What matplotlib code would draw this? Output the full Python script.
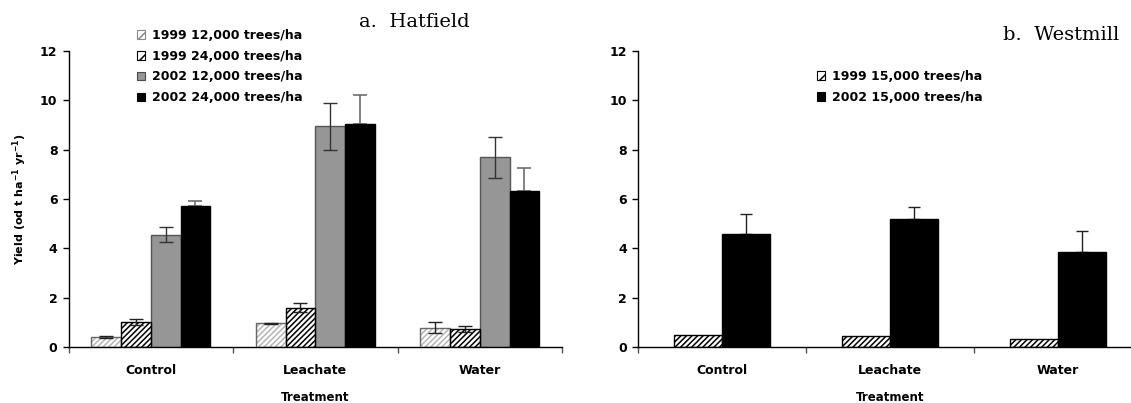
import numpy as np
import matplotlib
matplotlib.use("Agg")
import matplotlib.pyplot as plt
from matplotlib.patches import Patch

# ---------------- data ----------------
categories = ["Control", "Leachate", "Water"]

hat_labels = ["1999 12,000 trees/ha", "1999 24,000 trees/ha",
              "2002 12,000 trees/ha", "2002 24,000 trees/ha"]
hat_1999_12k = [0.40, 0.96, 0.78]
hat_1999_12k_err = [0.03, 0.03, 0.23]
hat_1999_24k = [1.01, 1.60, 0.73]
hat_1999_24k_err = [0.12, 0.19, 0.12]
hat_2002_12k = [4.55, 8.95, 7.70]
hat_2002_12k_err = [0.30, 0.95, 0.83]
hat_2002_24k = [5.72, 9.03, 6.34]
hat_2002_24k_err = [0.20, 1.20, 0.92]

west_labels = ["1999 15,000 trees/ha", "2002 15,000 trees/ha"]
west_1999 = [0.50, 0.43, 0.32]
west_2002 = [4.60, 5.18, 3.86]
west_2002_err = [0.79, 0.48, 0.83]

yticks = [0, 2, 4, 6, 8, 10, 12]

# ---------------- figure ----------------
W, H = 1131, 403
DPI = 100
fig = plt.figure(figsize=(W / DPI, H / DPI), dpi=DPI)
plt.rcParams["hatch.linewidth"] = 1.1

SANS = "DejaVu Sans"
SERIF = "DejaVu Serif"
HATCH = "//////"

def px_axes(x0, x1, ytop, ybot):
    return fig.add_axes([x0 / W, 1 - ybot / H, (x1 - x0) / W, (ybot - ytop) / H])

axL = px_axes(68.6, 562, 51, 347)
axR = px_axes(638, 1142, 51, 347)

def style_axis(ax):
    ax.set_xlim(0, 3)
    ax.set_ylim(0, 12)
    for s in ["top", "right"]:
        ax.spines[s].set_visible(False)
    for s in ["left", "bottom"]:
        ax.spines[s].set_linewidth(1.0)
        ax.spines[s].set_color("black")
    ax.set_yticks(yticks)
    ax.set_yticklabels([str(v) for v in yticks], fontsize=9, fontweight="bold",
                       family=SANS)
    ax.tick_params(axis="y", direction="out", length=4, width=1, pad=4)
    ax.set_xticks([0, 1, 2, 3])
    ax.set_xticklabels([])
    ax.tick_params(axis="x", which="major", direction="out", length=4, width=1,
                   color="#555555")
    ax.set_xticks(np.arange(len(categories)) + 0.5, minor=True)
    ax.set_xticklabels(categories, minor=True, fontsize=9, fontweight="bold",
                       family=SANS)
    ax.tick_params(axis="x", which="minor", length=0, pad=12)
    ax.set_xlabel("Treatment", fontsize=8.5, fontweight="bold", family=SANS,
                  labelpad=10)

def hatched_bar(ax, x, h, w, hatch_color, edge_color, hatch=HATCH):
    ax.bar(x, h, w, color="white", edgecolor=hatch_color, hatch=hatch,
           linewidth=0, zorder=2)
    ax.bar(x, h, w, fill=False, edgecolor=edge_color, linewidth=1.0, zorder=3)

# ---------------- left panel: Hatfield ----------------
centers = np.arange(len(categories)) + 0.5
bwL = 0.181
offs = (np.arange(4) - 1.5) * bwL

hatched_bar(axL, centers + offs[0], hat_1999_12k, bwL, "#b4b4b4", "#666666")
axL.errorbar(centers + offs[0], hat_1999_12k, yerr=hat_1999_12k_err, fmt="none",
             ecolor="#222222", elinewidth=1, capsize=5, capthick=1, zorder=4)
hatched_bar(axL, centers + offs[1], hat_1999_24k, bwL, "black", "black")
axL.errorbar(centers + offs[1], hat_1999_24k, yerr=hat_1999_24k_err, fmt="none",
             ecolor="#222222", elinewidth=1, capsize=5, capthick=1, zorder=4)
axL.bar(centers + offs[2], hat_2002_12k, bwL, color="#969696",
        edgecolor="#555555", linewidth=1.0, zorder=2)
axL.errorbar(centers + offs[2], hat_2002_12k, yerr=hat_2002_12k_err, fmt="none",
             ecolor="#333333", elinewidth=1, capsize=5, capthick=1, zorder=4)
axL.bar(centers + offs[3], hat_2002_24k, bwL, color="black",
        edgecolor="black", linewidth=1.0, zorder=3)
axL.errorbar(centers + offs[3], hat_2002_24k,
             yerr=[np.zeros(len(hat_2002_24k_err)), hat_2002_24k_err], fmt="none",
             ecolor="#6e6e6e", elinewidth=1.2, capsize=5, capthick=1.2, zorder=2)

style_axis(axL)
axL.set_ylabel("Yield (od t ha$^{\\mathbf{-1}}$ yr$^{\\mathbf{-1}}$)", fontsize=8,
               fontweight="bold", family=SANS, labelpad=8)

handlesL = [
    Patch(facecolor="white", edgecolor="#888888", hatch="///", linewidth=0.8),
    Patch(facecolor="white", edgecolor="black", hatch="///", linewidth=0.8),
    Patch(facecolor="#969696", edgecolor="#4a4a4a", linewidth=0.8),
    Patch(facecolor="black", edgecolor="black", linewidth=0.8),
]
legL = fig.legend(handlesL, hat_labels, loc="upper left",
                  bbox_to_anchor=(137 / W, 1 - 29 / H), frameon=False,
                  prop={"family": SANS, "weight": "bold", "size": 9},
                  handlelength=0.65, handleheight=0.65, handletextpad=0.55,
                  labelspacing=0.62, borderpad=0, borderaxespad=0)

fig.text(414 / W, 1 - 22 / H, "a.  Hatfield", family=SERIF, fontsize=14,
         ha="center", va="center")

# ---------------- right panel: Westmill ----------------
bwR = 0.283
hatched_bar(axR, centers - bwR / 2, west_1999, bwR, "black", "black")
axR.bar(centers + bwR / 2, west_2002, bwR, color="black", edgecolor="black",
        linewidth=1.0, zorder=3)
axR.errorbar(centers + bwR / 2, west_2002,
             yerr=[np.zeros(len(west_2002_err)), west_2002_err], fmt="none",
             ecolor="#222222", elinewidth=1.0, capsize=4, capthick=1.0, zorder=2)
style_axis(axR)

handlesR = [
    Patch(facecolor="white", edgecolor="black", hatch="///", linewidth=0.8),
    Patch(facecolor="black", edgecolor="black", linewidth=0.8),
]
legR = fig.legend(handlesR, west_labels, loc="upper left",
                  bbox_to_anchor=(817 / W, 1 - 70 / H), frameon=False,
                  prop={"family": SANS, "weight": "bold", "size": 9},
                  handlelength=0.65, handleheight=0.65, handletextpad=0.55,
                  labelspacing=0.62, borderpad=0, borderaxespad=0)

fig.text(1061 / W, 1 - 35 / H, "b.  Westmill", family=SERIF, fontsize=14,
         ha="center", va="center")

fig.savefig("out.png", dpi=DPI)
